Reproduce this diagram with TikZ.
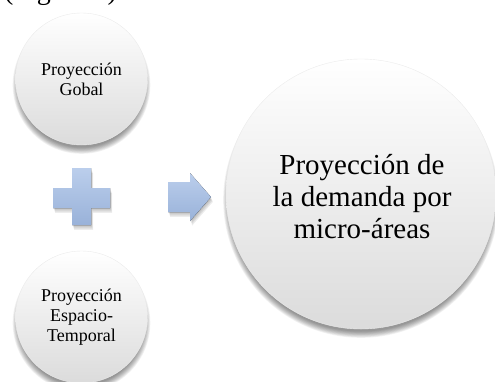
\documentclass[tikz,border=0pt]{standalone}
\usepackage{fontspec}
\setmainfont{Liberation Serif}
\newcommand\softshadow[3]{%
  \foreach \k in {0,...,9}{\fill[black, opacity=0.05] (#1,#2+6) circle[radius=#3-3.5+\k*0.7];}}
\begin{document}
\begin{tikzpicture}[x=1pt,y=-1pt,
  bub/.style={circle, inner sep=0pt, align=center, top color=white, bottom color=black!14, draw=black!8, line width=0.4pt},
  blueshape/.style={top color={rgb,255:red,187;green,206;blue,236}, bottom color={rgb,255:red,153;green,178;blue,217}, draw=none},
  shadowshape/.style={fill=black, opacity=0.07, draw=none}
]
\useasboundingbox (0,0) rectangle (495,381);
% cropped caption remnant
\node[anchor=base west, font=\fontsize{28}{30}\selectfont, inner sep=0pt] (fig) at (4,-1) {(Figura 1)};
% shadows
\softshadow{81.5}{79}{66}
\softshadow{81.5}{317}{66}
\softshadow{361}{194}{135}
% bubbles
\node[bub, minimum size=132pt, font=\fontsize{18}{20}\selectfont] (g) at (81.5,79) {Proyección\\Gobal};
\node[bub, minimum size=132pt, font=\fontsize{18}{20}\selectfont] (e) at (81.5,317) {Proyección\\Espacio-\\Temporal};
\node[bub, minimum size=270pt, font=\fontsize{29}{32}\selectfont] (d) at (361,194) {};
\node[align=center, inner sep=0pt, font=\fontsize{29}{32}\selectfont] (dt) at (362,197) {Proyección de\\la demanda por\\micro-áreas};
% plus and arrow shadows
\foreach \s in {1,2,3,4}{
\fill[shadowshape] ([shift={(0.5*\s,1.2*\s)}]72,168) -- ++(19,0) -- ++(0,20) -- ++(19,0) -- ++(0,20) -- ++(-19,0) -- ++(0,17) -- ++(-19,0) -- ++(0,-17) -- ++(-19,0) -- ++(0,-20) -- ++(19,0) -- cycle;
\fill[shadowshape] ([shift={(0.5*\s,1.2*\s)}]168,182) -- ++(22,0) -- ++(0,-9) -- ++(21,24) -- ++(-21,24) -- ++(0,-9) -- ++(-22,0) -- cycle;
}
% plus
\fill[blueshape] (72,168) -- (91,168) -- (91,188) -- (110,188) -- (110,208) -- (91,208) -- (91,225) -- (72,225) -- (72,208) -- (53,208) -- (53,188) -- (72,188) -- cycle;
% arrow
\fill[blueshape] (168,182) -- (190,182) -- (190,173) -- (211,197) -- (190,221) -- (190,212) -- (168,212) -- cycle;
\end{tikzpicture}
\end{document}
